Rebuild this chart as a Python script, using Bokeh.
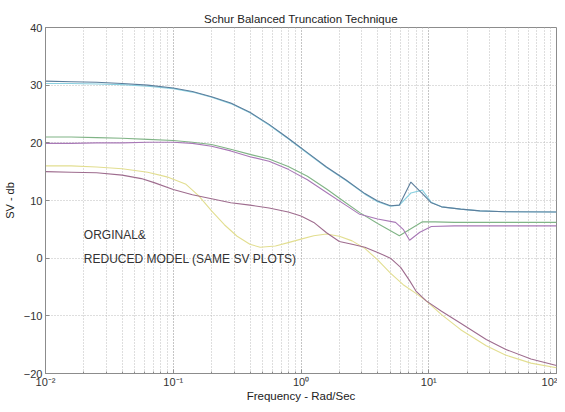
from bokeh.plotting import figure
from bokeh.models import Range1d, Label, SingleIntervalTicker, LogTicker, CustomJSTickFormatter
from bokeh.embed import file_html
from bokeh.resources import INLINE
import numpy as np

TITLE = "Schur Balanced Truncation Technique"
XLABEL = "Frequency - Rad/Sec"
YLABEL = "SV - db"
NOTE1 = "ORGINAL&"
NOTE2 = "REDUCED MODEL (SAME SV PLOTS)"

# log10(frequency) and singular values (dB)
lf_top = [-2.0, -1.8, -1.6, -1.4, -1.2, -1.0, -0.85, -0.7, -0.55, -0.4, -0.25, -0.1, 0.05, 0.2,
          0.35, 0.5, 0.6, 0.7, 0.77, 0.86, 0.95, 1.02, 1.1, 1.25, 1.4, 1.6, 2.0]
sv_top_dark = [30.7, 30.6, 30.5, 30.3, 30.0, 29.5, 28.9, 28.0, 26.9, 25.3, 23.2, 20.8, 18.3, 15.8,
               13.6, 11.2, 9.9, 9.1, 9.2, 13.2, 11.2, 9.6, 8.9, 8.5, 8.2, 8.05, 8.0]
sv_top_light = [30.3, 30.3, 30.2, 30.1, 29.8, 29.4, 28.8, 27.9, 26.8, 25.2, 23.1, 20.7, 18.2, 15.7,
                13.5, 11.1, 9.8, 9.0, 9.2, 11.3, 11.8, 9.7, 8.9, 8.5, 8.2, 8.05, 8.0]

lf_mid_green = [-2.0, -1.8, -1.6, -1.4, -1.2, -1.0, -0.85, -0.7, -0.55, -0.4, -0.25, -0.1, 0.05, 0.2,
                0.35, 0.46, 0.6, 0.77, 0.86, 0.95, 1.05, 1.2, 1.5, 2.0]
sv_mid_green = [21.0, 21.0, 20.9, 20.8, 20.6, 20.4, 20.1, 19.7, 18.9, 18.0, 17.2, 15.9, 14.2, 12.0,
                9.6, 7.9, 6.0, 3.9, 5.1, 6.3, 6.3, 6.2, 6.2, 6.2]

lf_mid_purple = [-2.0, -1.8, -1.6, -1.4, -1.2, -1.0, -0.85, -0.7, -0.55, -0.4, -0.25, -0.1, 0.05, 0.2,
                 0.35, 0.46, 0.6, 0.74, 0.8, 0.85, 0.93, 1.02, 1.2, 1.5, 2.0]
sv_mid_purple = [19.9, 19.9, 20.0, 20.0, 20.1, 20.1, 19.9, 19.4, 18.6, 17.6, 16.8, 15.4, 13.6, 11.4,
                 9.2, 7.6, 6.8, 6.2, 5.0, 3.1, 4.5, 5.5, 5.6, 5.6, 5.6]

lf_low_yellow = [-2.0, -1.8, -1.6, -1.4, -1.2, -1.05, -0.9, -0.8, -0.7, -0.6, -0.5, -0.4, -0.32, -0.2,
                 -0.1, 0.0, 0.1, 0.2, 0.3, 0.4, 0.5, 0.6, 0.7, 0.8, 0.9, 0.98, 1.1, 1.25, 1.45, 1.6,
                 1.8, 2.0]
sv_low_yellow = [16.0, 16.0, 15.8, 15.5, 14.9, 14.1, 12.8, 10.8, 8.2, 5.8, 3.8, 2.4, 1.9, 2.1,
                 2.7, 3.3, 3.9, 4.2, 3.8, 3.0, 1.7, -0.3, -2.6, -4.6, -6.1, -7.4, -9.8, -12.4, -15.2,
                 -16.8, -18.2, -19.0]

lf_low_mauve = [-2.0, -1.8, -1.6, -1.4, -1.25, -1.15, -1.0, -0.85, -0.7, -0.55, -0.4, -0.25, -0.1, 0.0,
                0.1, 0.2, 0.3, 0.4, 0.5, 0.6, 0.7, 0.78, 0.85, 0.9, 0.98, 1.1, 1.25, 1.45, 1.6, 1.8,
                2.0]
sv_low_mauve = [15.0, 14.9, 14.8, 14.4, 13.8, 13.1, 11.9, 11.0, 10.3, 9.6, 9.2, 8.7, 8.0, 7.3,
                6.2, 4.4, 2.9, 2.4, 1.9, 1.0, 0.0, -1.6, -3.9, -5.7, -7.4, -9.2, -11.3, -14.1, -15.8,
                -17.5, -18.6]

FONT = "Liberation Sans"

p = figure(width=557, height=404, x_axis_type="log",
           x_range=Range1d(0.01, 100), y_range=Range1d(-20, 40),
           output_backend="svg", toolbar_location=None,
           min_border_left=44, min_border_right=1, min_border_top=27, min_border_bottom=26)

p.title.text = TITLE
p.title.align = "center"
p.title.text_font = FONT
p.title.text_font_size = "11.5px"
p.title.text_font_style = "normal"
p.title.text_color = "#222222"
p.title.standoff = 6

series = [
    (lf_low_yellow, sv_low_yellow, "#e2de90"),
    (lf_low_mauve, sv_low_mauve, "#9e6c8e"),
    (lf_mid_green, sv_mid_green, "#80b486"),
    (lf_mid_purple, sv_mid_purple, "#a878b6"),
    (lf_top, sv_top_light, "#8ad0e0"),
    (lf_top, sv_top_dark, "#5c7e9c"),
]
for lf, sv, col in series:
    p.line(10 ** np.array(lf), sv, line_color=col, line_width=1.1)

p.xaxis.ticker = LogTicker(num_minor_ticks=10)
p.xaxis.formatter = CustomJSTickFormatter(code="""
const e = Math.round(Math.log10(tick));
const sup = {"-": "\u207b", "0": "\u2070", "1": "\u00b9", "2": "\u00b2", "3": "\u00b3"};
return "10" + String(e).split("").map(c => sup[c]).join("");
""")
p.yaxis.ticker = SingleIntervalTicker(interval=10, num_minor_ticks=0)

for ax in (p.xaxis, p.yaxis):
    ax.axis_line_color = "#8c8c8c"
    ax.major_tick_line_color = "#8c8c8c"
    ax.minor_tick_line_color = "#8c8c8c"
    ax.major_tick_in = 4
    ax.major_tick_out = 0
    ax.minor_tick_in = 2
    ax.minor_tick_out = 0
    ax.major_label_text_font = FONT
    ax.major_label_text_font_size = "11px"
    ax.major_label_text_color = "#333333"
    ax.axis_label_text_font = FONT
    ax.axis_label_text_font_style = "normal"
    ax.axis_label_text_color = "#222222"

p.xaxis.axis_label = XLABEL
p.yaxis.axis_label = YLABEL
p.xaxis.axis_label_text_font_size = "11.5px"
p.yaxis.axis_label_text_font_size = "11px"
p.xaxis.major_label_standoff = 2
p.xaxis.axis_label_standoff = -1
p.yaxis.major_label_standoff = 3
p.yaxis.axis_label_standoff = 5

p.xgrid.grid_line_color = "#bcbcbc"
p.xgrid.grid_line_dash = "1 2"
p.xgrid.minor_grid_line_color = "#bcbcbc"
p.xgrid.minor_grid_line_dash = "1 2"
p.ygrid.grid_line_color = "#bcbcbc"
p.ygrid.grid_line_dash = "1 2"

p.outline_line_color = "#8c8c8c"
p.background_fill_color = "white"
p.border_fill_color = "white"

p.add_layout(Label(x=10 ** -1.7, y=4.1, text=NOTE1, text_font=FONT, text_font_size="12px",
                   text_baseline="middle", text_color="#333333"))
p.add_layout(Label(x=10 ** -1.7, y=-0.1, text=NOTE2, text_font=FONT, text_font_size="12px",
                   text_baseline="middle", text_color="#333333"))

open("out.html", "w").write(file_html(p, INLINE))
